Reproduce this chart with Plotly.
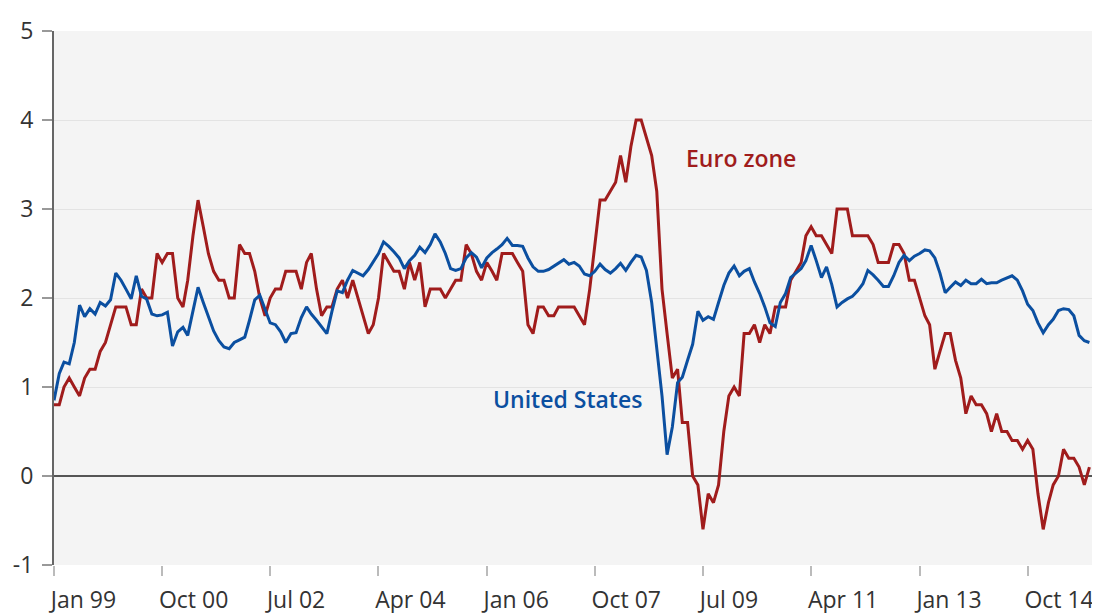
import pandas as pd
from plotly import graph_objects as go

months = pd.date_range("1999-01-01", periods=202, freq="MS")

euro_zone = [
    0.8, 0.8, 1.0, 1.1, 1.0, 0.9, 1.1, 1.2, 1.2, 1.4, 1.5, 1.7,
    1.9, 1.9, 1.9, 1.7, 1.7, 2.1, 2.0, 2.0, 2.5, 2.4, 2.5, 2.5,
    2.0, 1.9, 2.2, 2.7, 3.1, 2.8, 2.5, 2.3, 2.2, 2.2, 2.0, 2.0,
    2.6, 2.5, 2.5, 2.3, 2.0, 1.8, 2.0, 2.1, 2.1, 2.3, 2.3, 2.3,
    2.1, 2.4, 2.5, 2.1, 1.8, 1.9, 1.9, 2.1, 2.2, 2.0, 2.2, 2.0,
    1.8, 1.6, 1.7, 2.0, 2.5, 2.4, 2.3, 2.3, 2.1, 2.4, 2.2, 2.4,
    1.9, 2.1, 2.1, 2.1, 2.0, 2.1, 2.2, 2.2, 2.6, 2.5, 2.3, 2.2,
    2.4, 2.3, 2.2, 2.5, 2.5, 2.5, 2.4, 2.3, 1.7, 1.6, 1.9, 1.9,
    1.8, 1.8, 1.9, 1.9, 1.9, 1.9, 1.8, 1.7, 2.1, 2.6, 3.1, 3.1,
    3.2, 3.3, 3.6, 3.3, 3.7, 4.0, 4.0, 3.8, 3.6, 3.2, 2.1, 1.6,
    1.1, 1.2, 0.6, 0.6, 0.0, -0.1, -0.6, -0.2, -0.3, -0.1, 0.5, 0.9,
    1.0, 0.9, 1.6, 1.6, 1.7, 1.5, 1.7, 1.6, 1.9, 1.9, 1.9, 2.2,
    2.3, 2.4, 2.7, 2.8, 2.7, 2.7, 2.6, 2.5, 3.0, 3.0, 3.0, 2.7,
    2.7, 2.7, 2.7, 2.6, 2.4, 2.4, 2.4, 2.6, 2.6, 2.5, 2.2, 2.2,
    2.0, 1.8, 1.7, 1.2, 1.4, 1.6, 1.6, 1.3, 1.1, 0.7, 0.9, 0.8,
    0.8, 0.7, 0.5, 0.7, 0.5, 0.5, 0.4, 0.4, 0.3, 0.4, 0.3, -0.2,
    -0.6, -0.3, -0.1, 0.0, 0.3, 0.2, 0.2, 0.1, -0.1, 0.1,
]

united_states = [
    0.85, 1.15, 1.28, 1.26, 1.50, 1.92, 1.79, 1.88, 1.82, 1.95, 1.91, 1.98,
    2.28, 2.20, 2.10, 1.99, 2.25, 2.02, 1.99, 1.82, 1.80, 1.81, 1.84, 1.46,
    1.62, 1.67, 1.58, 1.85, 2.12, 1.95, 1.80, 1.63, 1.52, 1.45, 1.43, 1.50,
    1.53, 1.56, 1.75, 1.98, 2.03, 1.88, 1.72, 1.70, 1.62, 1.50, 1.60, 1.61,
    1.78, 1.90, 1.82, 1.75, 1.67, 1.60, 1.85, 2.08, 2.06, 2.20, 2.31, 2.28,
    2.25, 2.32, 2.40, 2.50, 2.63, 2.58, 2.52, 2.45, 2.33, 2.42, 2.48, 2.57,
    2.51, 2.60, 2.72, 2.63, 2.50, 2.33, 2.31, 2.33, 2.45, 2.51, 2.46, 2.34,
    2.45, 2.51, 2.55, 2.60, 2.67, 2.59, 2.59, 2.58, 2.45, 2.35, 2.30, 2.30,
    2.32, 2.36, 2.40, 2.43, 2.38, 2.40, 2.36, 2.27, 2.25, 2.30, 2.38, 2.32,
    2.28, 2.33, 2.39, 2.31, 2.40, 2.48, 2.46, 2.31, 1.95, 1.40, 0.90, 0.24,
    0.55, 1.05, 1.11, 1.30, 1.48, 1.85, 1.75, 1.79, 1.76, 1.95, 2.14, 2.28,
    2.36, 2.25, 2.30, 2.33, 2.18, 2.05, 1.90, 1.72, 1.68, 1.95, 2.05, 2.23,
    2.28, 2.33, 2.42, 2.59, 2.42, 2.23, 2.35, 2.15, 1.90, 1.95, 1.99, 2.02,
    2.08, 2.16, 2.31, 2.26, 2.20, 2.13, 2.13, 2.25, 2.40, 2.48, 2.42, 2.47,
    2.50, 2.54, 2.53, 2.45, 2.28, 2.06, 2.12, 2.18, 2.14, 2.20, 2.16, 2.16,
    2.21, 2.16, 2.17, 2.17, 2.20, 2.23, 2.25, 2.20, 2.08, 1.93, 1.86, 1.72,
    1.61, 1.70, 1.76, 1.86, 1.88, 1.87, 1.80, 1.58, 1.52, 1.50,
]

tick_dates = ["1999-01-01", "2000-10-01", "2002-07-01", "2004-04-01", "2006-01-01",
              "2007-10-01", "2009-07-01", "2011-04-01", "2013-01-01", "2014-10-01"]
tick_labels = ["Jan 99", "Oct 00", "Jul 02", "Apr 04", "Jan 06",
               "Oct 07", "Jul 09", "Apr 11", "Jan 13", "Oct 14"]
y_ticks = [-1, 0, 1, 2, 3, 4, 5]
y_labels = ["-1", "0", "1", "2", "3", "4", "5"]

RED = "#a01c1c"
BLUE = "#0b4fa0"
FONT = "Open Sans"

# the page body adds an 8px offset, so margins are trimmed by that much
fig = go.Figure(
    data=[
        go.Scatter(x=months, y=euro_zone, mode="lines",
                   line=dict(color=RED, width=3), name="Euro zone"),
        go.Scatter(x=months, y=united_states, mode="lines",
                   line=dict(color=BLUE, width=3), name="United States"),
    ],
    layout=dict(
        width=1100,
        height=613,
        margin=dict(l=46, r=13, t=23, b=56),
        paper_bgcolor="white",
        plot_bgcolor="#f4f4f4",
        showlegend=False,
        font=dict(family=FONT, size=22, color="#333"),
        xaxis=dict(
            range=["1999-01-01", "2015-11-03"],
            tickvals=tick_dates,
            ticktext=tick_labels,
            ticks="outside",
            ticklen=10,
            tickcolor="#bbbbbb",
            tickwidth=1.5,
            ticklabelposition="outside right",
            ticklabelshift=-4,
            ticklabelstandoff=14,
            showgrid=False,
            showline=False,
            zeroline=False,
            automargin=False,
            tickfont=dict(size=23, color="#333"),
        ),
        yaxis=dict(
            range=[-1, 5],
            tickvals=y_ticks,
            ticktext=y_labels,
            ticks="outside",
            ticklen=10,
            tickcolor="#999999",
            tickwidth=1.5,
            ticklabelstandoff=4,
            showgrid=True,
            gridcolor="#e3e3e3",
            gridwidth=1,
            zeroline=True,
            zerolinecolor="#555555",
            zerolinewidth=1.5,
            showline=True,
            linecolor="#666666",
            linewidth=2,
            automargin=False,
            tickfont=dict(size=23, color="#333"),
        ),
        annotations=[
            dict(x="2009-03-10", y=3.57, text="Euro zone", showarrow=False,
                 xanchor="left", yanchor="middle",
                 font=dict(family=FONT, size=23, color=RED, weight=600)),
            dict(x="2006-01-25", y=0.87, text="United States", showarrow=False,
                 xanchor="left", yanchor="middle",
                 font=dict(family=FONT, size=23, color=BLUE, weight=600)),
        ],
    ),
)

fig.write_html("out.html")
